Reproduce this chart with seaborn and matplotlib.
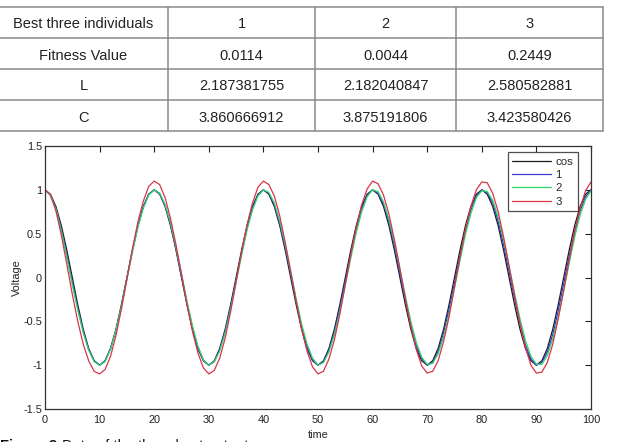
import numpy as np
import pandas as pd
import matplotlib
matplotlib.use("Agg")
import matplotlib.pyplot as plt
import seaborn as sns

# ---------------- data ----------------
table_header = ["Best three individuals", "1", "2", "3"]
table_rows = [
    ["Fitness Value", "0.0114", "0.0044", "0.2449"],
    ["L", "2.187381755", "2.182040847", "2.580582881"],
    ["C", "3.860666912", "3.875191806", "3.423580426"],
]

time = list(range(0, 101))

cos_vals = [
    1.00, 0.95, 0.81, 0.59, 0.31, 0.00, -0.31, -0.59, -0.81, -0.95,
    -1.00, -0.95, -0.81, -0.59, -0.31, 0.00, 0.31, 0.59, 0.81, 0.95,
    1.00, 0.95, 0.81, 0.59, 0.31, 0.00, -0.31, -0.59, -0.81, -0.95,
    -1.00, -0.95, -0.81, -0.59, -0.31, 0.00, 0.31, 0.59, 0.81, 0.95,
    1.00, 0.95, 0.81, 0.59, 0.31, 0.00, -0.31, -0.59, -0.81, -0.95,
    -1.00, -0.95, -0.81, -0.59, -0.31, 0.00, 0.31, 0.59, 0.81, 0.95,
    1.00, 0.95, 0.81, 0.59, 0.31, 0.00, -0.31, -0.59, -0.81, -0.95,
    -1.00, -0.95, -0.81, -0.59, -0.31, 0.00, 0.31, 0.59, 0.81, 0.95,
    1.00, 0.95, 0.81, 0.59, 0.31, 0.00, -0.31, -0.59, -0.81, -0.95,
    -1.00, -0.95, -0.81, -0.59, -0.31, 0.00, 0.31, 0.59, 0.81, 0.95,
    1.00,
]

ind1_vals = [
    1.00, 0.94, 0.79, 0.55, 0.26, -0.05, -0.35, -0.61, -0.82, -0.95,
    -1.00, -0.95, -0.81, -0.60, -0.32, -0.01, 0.30, 0.58, 0.80, 0.95,
    1.00, 0.96, 0.82, 0.60, 0.33, 0.02, -0.29, -0.57, -0.80, -0.94,
    -1.00, -0.96, -0.82, -0.61, -0.33, -0.03, 0.28, 0.56, 0.79, 0.94,
    1.00, 0.96, 0.83, 0.61, 0.34, 0.04, -0.27, -0.56, -0.79, -0.94,
    -1.00, -0.96, -0.83, -0.62, -0.35, -0.04, 0.27, 0.55, 0.78, 0.94,
    1.00, 0.96, 0.84, 0.63, 0.36, 0.05, -0.26, -0.54, -0.78, -0.93,
    -1.00, -0.97, -0.84, -0.63, -0.36, -0.06, 0.25, 0.54, 0.77, 0.93,
    1.00, 0.97, 0.85, 0.64, 0.37, 0.07, -0.24, -0.53, -0.77, -0.93,
    -1.00, -0.97, -0.85, -0.65, -0.38, -0.07, 0.24, 0.52, 0.76, 0.92,
    1.00,
]

ind2_vals = [
    1.00, 0.94, 0.78, 0.53, 0.23, -0.08, -0.37, -0.63, -0.83, -0.96,
    -1.00, -0.96, -0.82, -0.60, -0.33, -0.02, 0.29, 0.57, 0.79, 0.94,
    1.00, 0.96, 0.83, 0.62, 0.34, 0.04, -0.27, -0.55, -0.78, -0.94,
    -1.00, -0.96, -0.84, -0.63, -0.36, -0.05, 0.25, 0.54, 0.77, 0.93,
    1.00, 0.97, 0.85, 0.64, 0.37, 0.07, -0.24, -0.53, -0.76, -0.92,
    -1.00, -0.97, -0.85, -0.65, -0.39, -0.09, 0.22, 0.51, 0.75, 0.92,
    1.00, 0.98, 0.86, 0.66, 0.40, 0.10, -0.21, -0.50, -0.74, -0.91,
    -0.99, -0.98, -0.87, -0.68, -0.42, -0.12, 0.19, 0.49, 0.73, 0.91,
    0.99, 0.98, 0.88, 0.69, 0.43, 0.13, -0.18, -0.47, -0.72, -0.90,
    -0.99, -0.99, -0.89, -0.70, -0.45, -0.15, 0.16, 0.46, 0.71, 0.89,
    0.99,
]

ind3_vals = [
    1.00, 0.94, 0.76, 0.48, 0.15, -0.19, -0.50, -0.76, -0.95, -1.07,
    -1.10, -1.05, -0.90, -0.66, -0.36, -0.02, 0.32, 0.63, 0.87, 1.04,
    1.10, 1.06, 0.91, 0.67, 0.37, 0.04, -0.30, -0.61, -0.86, -1.03,
    -1.10, -1.06, -0.92, -0.69, -0.39, -0.05, 0.29, 0.60, 0.85, 1.03,
    1.10, 1.06, 0.93, 0.70, 0.40, 0.07, -0.27, -0.59, -0.84, -1.02,
    -1.10, -1.07, -0.93, -0.71, -0.42, -0.08, 0.26, 0.57, 0.83, 1.01,
    1.10, 1.07, 0.94, 0.72, 0.43, 0.10, -0.24, -0.56, -0.82, -1.01,
    -1.09, -1.07, -0.95, -0.73, -0.45, -0.11, 0.23, 0.55, 0.81, 1.00,
    1.09, 1.08, 0.96, 0.75, 0.46, 0.13, -0.21, -0.53, -0.80, -1.00,
    -1.09, -1.08, -0.97, -0.76, -0.47, -0.15, 0.20, 0.52, 0.79, 0.99,
    1.09,
]

series_names = ["cos", "1", "2", "3"]
series_colors = ["#1a1a1a", "#3a3ad0", "#2fd865", "#d8354a"]
x_ticks = [0, 10, 20, 30, 40, 50, 60, 70, 80, 90, 100]
y_ticks = [-1.5, -1, -0.5, 0, 0.5, 1, 1.5]
y_tick_labels = ["-1.5", "-1", "-0.5", "0", "0.5", "1", "1.5"]
caption_bold = "Figure 3. "
caption_rest = "Data of the three best outputs"

# ---------------- build ----------------
frames = []
for name, vals in zip(series_names, [cos_vals, ind1_vals, ind2_vals, ind3_vals]):
    frames.append(pd.DataFrame({"time": time, "Voltage": vals, "series": name}))
df = pd.concat(frames, ignore_index=True)

sns.set_theme(style="white")
plt.rcParams["font.family"] = ["Liberation Sans", "DejaVu Sans"]

W, H = 618, 442
fig = plt.figure(figsize=(W / 100, H / 100), dpi=100)
fig.patch.set_facecolor("white")

# ---- table drawn in pixel coordinates ----
tax = fig.add_axes([0, 0, 1, 1])
tax.set_xlim(0, W)
tax.set_ylim(H, 0)
tax.axis("off")
col_edges = [-1, 168, 315, 456, 603]
row_edges = [7, 38, 69, 100, 131]
line_col = "#8a8a8a"
for y in row_edges:
    tax.plot([col_edges[0], col_edges[-1]], [y, y], color=line_col, lw=1.1)
for x in col_edges:
    tax.plot([x, x], [row_edges[0], row_edges[-1]], color=line_col, lw=1.1)
all_rows = [table_header] + table_rows
for r, row in enumerate(all_rows):
    yc = (row_edges[r] + row_edges[r + 1]) / 2 + 2
    for c, txt in enumerate(row):
        xc = (col_edges[c] + col_edges[c + 1]) / 2
        tax.text(xc, yc, txt, ha="center", va="center", fontsize=10.5,
                 color="#222222")

# caption (cut off by the bottom edge, as in the reference)
tax.text(0, 439, caption_bold, fontsize=10.5, fontweight="bold",
         ha="left", va="top", color="#111111")
tax.text(62, 439, caption_rest, fontsize=10.5,
         ha="left", va="top", color="#111111")

# ---- plot ----
ax = fig.add_axes([45 / W, 1 - 409 / H, 546 / W, 263 / H])
sns.lineplot(data=df, x="time", y="Voltage", hue="series",
             hue_order=series_names, palette=dict(zip(series_names, series_colors)),
             linewidth=0.9, ax=ax, sort=True, estimator=None)

ax.set_xlim(0, 100)
ax.set_ylim(-1.5, 1.5)
ax.set_xticks(x_ticks)
ax.set_xticklabels([str(v) for v in x_ticks])
ax.set_yticks(y_ticks)
ax.set_yticklabels(y_tick_labels)
ax.tick_params(axis="both", which="both", direction="in", length=4, width=0.8,
               top=True, right=True, labelsize=7.9, colors="#222222", pad=2)
ax.tick_params(axis="x", pad=4)
for sp in ax.spines.values():
    sp.set_visible(True)
    sp.set_color("#333333")
    sp.set_linewidth(0.9)
ax.set_xlabel("time", fontsize=7.8, color="#222222", labelpad=4)
ax.set_ylabel("Voltage", fontsize=7.8, color="#222222", labelpad=1)
ax.grid(False)

leg = ax.legend(loc="upper right", bbox_to_anchor=(0.976, 0.977),
                borderaxespad=0, fontsize=8.2, frameon=True, fancybox=False,
                handlelength=3.4, handletextpad=0.4, labelspacing=0.3,
                borderpad=0.4)
leg.get_frame().set_edgecolor("#222222")
leg.get_frame().set_linewidth(0.9)
for line in leg.get_lines():
    line.set_linewidth(0.9)

fig.savefig("out.png", dpi=100, facecolor="white")
